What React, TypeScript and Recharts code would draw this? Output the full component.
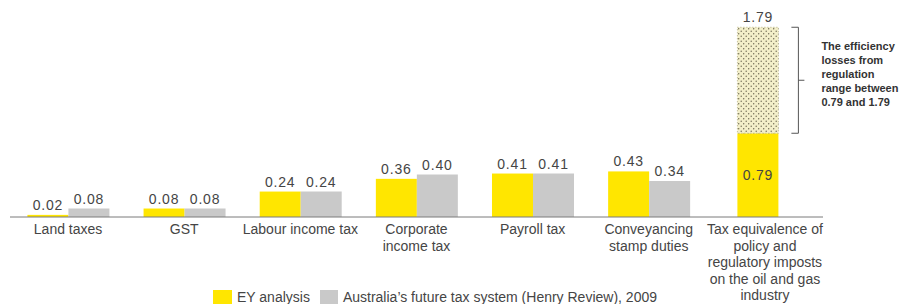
import React from 'react';
import { BarChart, Bar, XAxis, YAxis, Legend, LabelList } from 'recharts';

const categories = [
  'Land taxes',
  'GST',
  'Labour income tax',
  'Corporate\nincome tax',
  'Payroll tax',
  'Conveyancing\nstamp duties',
  'Tax equivalence of\npolicy and\nregulatory imposts\non the oil and gas\nindustry',
];
const eyValues = [0.02, 0.08, 0.24, 0.36, 0.41, 0.43, 0.79];
const henryValues: (number | null)[] = [0.08, 0.08, 0.24, 0.4, 0.41, 0.34, null];
const rangeUpper: (number | null)[] = [null, null, null, null, null, null, 1.79];

const annotation = ['The efficiency', 'losses from', 'regulation', 'range between', '0.79 and 1.79'];

const YELLOW = '#FFE600';
const GREY = '#C9C9C9';
const TEXT = '#454545';
const FONT = '"Liberation Sans", Arial, sans-serif';

const data = categories.map((name, i) => ({
  name,
  ey: eyValues[i],
  henry: henryValues[i],
  range: rangeUpper[i] != null ? (rangeUpper[i] as number) - eyValues[i] : null,
  upper: rangeUpper[i],
}));

// the lone bar in the last group sits a bit towards the middle of its band
const shiftFor = (index: number, width: number) =>
  data[index] && data[index].henry == null ? width * 0.32 : 0;

const EyShape = (p: any) => {
  const shift = p.payload && p.payload.henry == null ? p.width * 0.32 : 0;
  return <rect x={p.x + shift} y={p.y} width={p.width} height={p.height} fill={YELLOW} />;
};

const RangeShape = (p: any) => {
  if (!p.height || p.height <= 0) return <g />;
  const shift = p.width * 0.32;
  const x = p.x + shift;
  const bx = x + p.width + 20;
  const top = p.y;
  const bottom = p.y + p.height;
  const mid = (top + bottom) / 2;
  return (
    <g>
      <defs>
        <pattern id="dots" width="5" height="5" patternUnits="userSpaceOnUse">
          <rect width="5" height="5" fill="#F3EFC9" />
          <circle cx="1.2" cy="1.2" r="0.7" fill="#6b6650" />
          <circle cx="3.7" cy="3.7" r="0.7" fill="#6b6650" />
        </pattern>
      </defs>
      <rect x={x} y={top} width={p.width} height={p.height} fill="url(#dots)" stroke="#b5b08a" strokeDasharray="1 2" />
      <path
        d={`M${bx - 7},${top} H${bx} V${bottom} H${bx - 7} M${bx},${mid} H${bx + 6}`}
        stroke="#555"
        strokeWidth={1}
        fill="none"
      />
      <text x={bx + 23} y={top + 23} fontFamily={FONT} fontSize={11} fontWeight="bold" fill="#333">
        {annotation.map((line, i) => (
          <tspan key={i} x={bx + 23} dy={i === 0 ? 0 : 14}>
            {line}
          </tspan>
        ))}
      </text>
    </g>
  );
};

const topLabel = (p: any) => {
  if (p.value == null) return null;
  const shift = shiftFor(p.index, p.width);
  const inside = data[p.index] && data[p.index].henry == null && p.value === data[p.index].ey;
  const cx = p.x + shift + p.width / 2;
  const y = inside ? p.y + p.height / 2 + 5 : p.y - 5;
  return (
    <text x={cx} y={y} textAnchor="middle" fontFamily={FONT} fontSize={14} letterSpacing={0.8} fill={TEXT}>
      {Number(p.value).toFixed(2)}
    </text>
  );
};

const CategoryTick = (p: any) => {
  const lines = String(p.payload.value).split('\n');
  return (
    <text x={p.x} y={p.y} textAnchor="middle" fontFamily={FONT} fontSize={14} fill={TEXT}>
      {lines.map((line, i) => (
        <tspan key={i} x={p.x} dy={i === 0 ? 9 : 16.5}>
          {line}
        </tspan>
      ))}
    </text>
  );
};

const LegendContent = () => (
  <div style={{ display: 'flex', alignItems: 'center', fontFamily: FONT, fontSize: 14, color: TEXT, whiteSpace: 'nowrap' }}>
    <span style={{ width: 19, height: 14, background: YELLOW, marginRight: 5 }} />
    <span style={{ marginRight: 10 }}>EY analysis</span>
    <span style={{ width: 18, height: 14, background: GREY, marginRight: 5 }} />
    <span>Australia’s future tax system (Henry Review), 2009</span>
  </div>
);

export default function App() {
  return (
    <div style={{ position: 'absolute', left: 0, top: 0, width: 900, height: 304, background: '#fff', overflow: 'hidden' }}>
      <BarChart
        width={900}
        height={304}
        data={data}
        margin={{ top: 5, right: 77, left: 10, bottom: 0 }}
        barCategoryGap="15%"
        barGap={0}
      >
        <XAxis
          dataKey="name"
          interval={0}
          height={87}
          tickLine={false}
          axisLine={{ stroke: '#7a7a7a' }}
          tick={<CategoryTick />}
        />
        <YAxis hide domain={[0, 2]} />
        <Legend
          verticalAlign="middle"
          align="center"
          content={<LegendContent />}
          wrapperStyle={{ top: 289, left: 213, width: 'auto' }}
        />
        <Bar dataKey="ey" stackId="a" fill={YELLOW} shape={<EyShape />} isAnimationActive={false}>
          <LabelList dataKey="ey" content={topLabel} />
        </Bar>
        <Bar dataKey="range" stackId="a" fill="#F3EFC9" shape={<RangeShape />} legendType="none" isAnimationActive={false}>
          <LabelList dataKey="upper" content={topLabel} />
        </Bar>
        <Bar dataKey="henry" stackId="b" fill={GREY} isAnimationActive={false}>
          <LabelList dataKey="henry" content={topLabel} />
        </Bar>
      </BarChart>
    </div>
  );
}
